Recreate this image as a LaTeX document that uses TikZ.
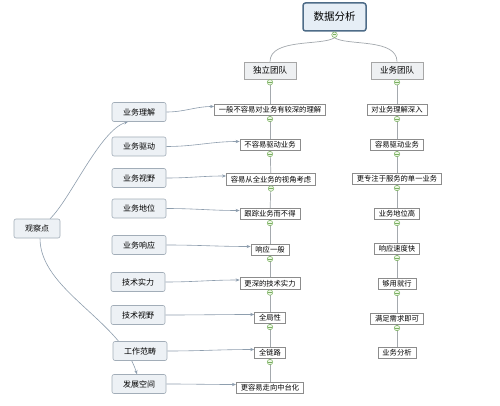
\documentclass[tikz,border=0pt]{standalone}
\usepackage{fontspec}
\newfontfamily\cjk{Noto Sans CJK SC}
\usetikzlibrary{arrows.meta,backgrounds}
\definecolor{branchgray}{HTML}{A4A9AE}
\definecolor{relblue}{HTML}{8E9EAE}
\definecolor{tipblue}{HTML}{5F7E9C}
\definecolor{foldgreen}{HTML}{79B060}
\definecolor{foldfill}{HTML}{EEF7E6}
\definecolor{rootline}{HTML}{4E6C88}
\definecolor{rootfill}{HTML}{E6EEF6}
\definecolor{aspline}{HTML}{A2ADB8}
\definecolor{aspfill}{HTML}{EDF1F5}
\definecolor{teamfill}{HTML}{EEF0F2}
\begin{document}
\begin{tikzpicture}%
	[x=1pt,y=-1pt,
	root/.style={draw=rootline,line width=1.5pt,rounded corners=2.5pt,fill=rootfill,
		minimum width=63pt,minimum height=28pt,inner sep=0pt,font=\cjk\fontsize{10.5}{12}\selectfont},
	team/.style={draw=black!35,line width=.6pt,fill=teamfill,
		minimum width=52pt,minimum height=17pt,inner sep=0pt,font=\cjk\fontsize{8.5}{10}\selectfont},
	aspect/.style={draw=aspline,line width=.6pt,rounded corners=2pt,fill=aspfill,
		minimum width=54pt,minimum height=19pt,inner sep=0pt,font=\cjk\fontsize{8}{9}\selectfont},
	leaf/.style={draw=black!45,line width=.6pt,fill=white,
		minimum height=11.5pt,inner ysep=0pt,inner xsep=4.5pt,font=\cjk\fontsize{7.3}{8}\selectfont},
	fold/.style={circle,draw=foldgreen,fill=foldfill,line width=.5pt,inner sep=0pt,minimum size=5.5pt,anchor=north,
		path picture={\draw[foldgreen,line width=.5pt]
			([xshift=-1.6pt]path picture bounding box.center) -- ([xshift=1.6pt]path picture bounding box.center);}},
	branch/.style={draw=branchgray,line width=.7pt},
	relation/.style={draw=relblue,line width=.6pt,-{Stealth[length=4pt,width=3.2pt,fill=tipblue]}}]
	%
	\useasboundingbox (0,0) rectangle (500,406);
	%%
	%% root and the two teams
	%%
	\node[root] (root) at (334.5,17) {数据分析};
	\node[fold] (rootf) at (root.south) {};
	\node[team] (indep) at (270,70.5) {独立团队};
	\node[team] (biz) at (397,70.5) {业务团队};
	\node[fold] (indepf) at (indep.south) {};
	\node[fold] (bizf) at (biz.south) {};
	%%
	%% observation points
	%%
	\node[aspect,minimum width=46pt] (obs) at (37,228.5) {观察点};
	\node[aspect] (asp1) at (139,112) {业务理解};
	\node[aspect] (asp2) at (139,146.5) {业务驱动};
	\node[aspect] (asp3) at (139,178) {业务视野};
	\node[aspect] (asp4) at (139,208.5) {业务地位};
	\node[aspect] (asp5) at (139,245) {业务响应};
	\node[aspect] (asp6) at (138,282) {技术实力};
	\node[aspect] (asp7) at (138,315) {技术视野};
	\node[aspect] (asp8) at (140,351) {工作范畴};
	\node[aspect] (asp9) at (139,384) {发展空间};
	%%
	%% independent team
	%%
	\node[leaf] (ind1) at (270,110) {一般不容易对业务有较深的理解};
	\node[leaf] (ind2) at (270,145) {不容易驱动业务};
	\node[leaf] (ind3) at (271,179.5) {容易从全业务的视角考虑};
	\node[leaf] (ind4) at (270,214) {跟踪业务而不得};
	\node[leaf] (ind5) at (270,250) {响应一般};
	\node[leaf] (ind6) at (270,283.5) {更深的技术实力};
	\node[leaf] (ind7) at (270,318) {全局性};
	\node[leaf] (ind8) at (270,353) {全链路};
	\node[leaf] (ind9) at (270,388) {更容易走向中台化};
	%%
	%% business team
	%%
	\node[leaf] (bus1) at (397,110) {对业务理解深入};
	\node[leaf] (bus2) at (397,145) {容易驱动业务};
	\node[leaf] (bus3) at (397,179) {更专注于服务的单一业务};
	\node[leaf] (bus4) at (397,214) {业务地位高};
	\node[leaf] (bus5) at (397,249) {响应速度快};
	\node[leaf] (bus6) at (397,284) {够用就行};
	\node[leaf] (bus7) at (397,319) {满足需求即可};
	\node[leaf] (bus8) at (397,353) {业务分析};
	%%
	%% fold markers
	%%
	\foreach \n in {ind1,ind2,ind3,ind4,ind5,ind6,ind7,ind8,bus1,bus2,bus3,bus4,bus5,bus6,bus7}
		\node[fold] (\n f) at (\n.south) {};
	%%
	%% connectors
	%%
	\begin{pgfonlayer}{background}
		\fill[white] (0,0) rectangle (500,406);
		\draw[branch] (rootf.south) .. controls (322,46) and (270,38) .. (indep.north);
		\draw[branch] (rootf.south) .. controls (347,46) and (397,38) .. (biz.north);
		\draw[branch] (indep) -- (ind1);
		\foreach \a/\b in {ind1/ind2,ind2/ind3,ind3/ind4,ind4/ind5,ind5/ind6,ind6/ind7,ind7/ind8,ind8/ind9}
			\draw[branch] (\a) -- (\b);
		\draw[branch] (biz) -- (bus1);
		\foreach \a/\b in {bus1/bus2,bus2/bus3,bus3/bus4,bus4/bus5,bus5/bus6,bus6/bus7,bus7/bus8}
			\draw[branch] (\a) -- (\b);
		%% relationships
		\draw[relation] ([xshift=13pt]obs.north) .. controls (70,200) and (100,130) .. ([xshift=-11pt]asp1.south);
		\draw[relation] ([xshift=3pt]obs.south) .. controls (40,290) and (120,320) .. ([xshift=-2pt]asp9.north);
		\foreach \i in {1,...,9}
			\draw[relation] (asp\i.east) to[out=0,in=180] ([yshift=3.5pt]ind\i.west);
	\end{pgfonlayer}
\end{tikzpicture}
\end{document}
